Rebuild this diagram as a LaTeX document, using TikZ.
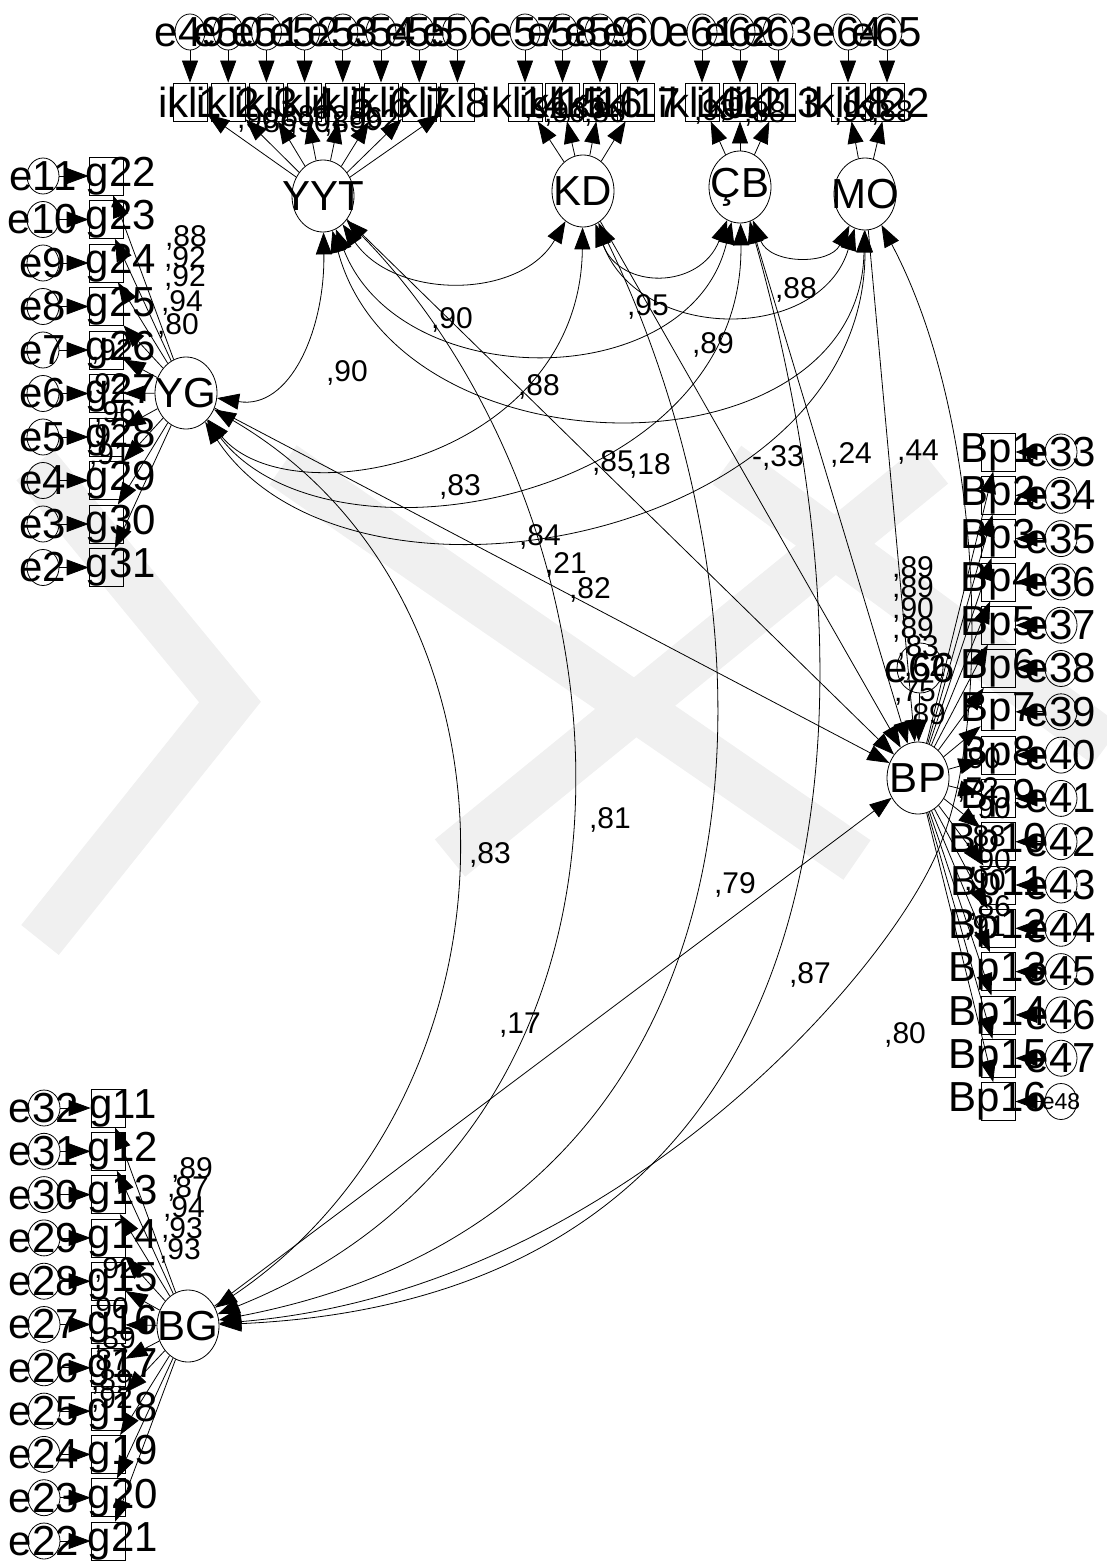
\documentclass[tikz,border=0pt]{standalone}
\usepackage{fontspec}
\setmainfont{Liberation Sans}
\usetikzlibrary{positioning, shapes.geometric, arrows.meta}

\begin{document}
\begin{tikzpicture}[x=0.5pt,y=-0.5pt]
	 \tikzstyle{latent}=[ellipse,draw,thin,minimum width=31pt,minimum height=36pt,inner sep=0pt]
	 \tikzstyle{obs}=[rectangle,draw,thin,minimum width=17pt,minimum height=19pt,inner sep=0pt]
	 \tikzstyle{err}=[ellipse,draw,thin,minimum width=16pt,minimum height=18pt,inner sep=0pt]
	 \tikzstyle{big}=[font=\fontsize{21}{21}\selectfont,inner sep=0pt]
	 \tikzstyle{small}=[font=\fontsize{11.5}{11.5}\selectfont,inner sep=0pt]
	 \tikzstyle{num}=[font=\fontsize{15}{15}\selectfont,inner sep=0pt]
	 \tikzstyle{path}=[draw,thin,-{Triangle[length=11pt,width=8pt]}]
	 \tikzstyle{cov}=[draw,thin,{Triangle[length=11pt,width=8pt]}-{Triangle[length=11pt,width=8pt]}]
	 \tikzstyle{wmark}=[draw=black!6,line width=24pt,line join=miter]
	 \useasboundingbox (0,0) rectangle (1107,1568);
	 % watermark
	 \draw[wmark] (35,465) -- (230,702) -- (40,940);
	 \draw[wmark] (283,465) -- (857,860);
	 \draw[wmark] (933,465) -- (450,858);
	 \draw[wmark] (727,465) -- (1107,745);
	 % latent variables
	 \node[latent, label={[big]center:YYT}] (yyt) at (323,196) {};
	 \node[latent, label={[big]center:KD}] (kd) at (583,191) {};
	 \node[latent, label={[big]center:ÇB}] (cb) at (740,187) {};
	 \node[latent, label={[big]center:MO}] (mo) at (865,194) {};
	 \node[latent, label={[big]center:YG}] (yg) at (186,393) {};
	 \node[latent, label={[big]center:BG}] (bg) at (188,1326) {};
	 \node[latent, label={[big]center:BP}] (bp) at (918,778) {};
	 \node[err, minimum width=23pt, minimum height=25pt, label={[big]center:e66}] (e66) at (920,668) {};
	 \draw[path] (e66) -- (bp);
	 % indicators on top
	 \foreach \xx/\k/\ee/\lat in {190/1/49/yyt, 228.2/2/50/yyt, 266.4/3/51/yyt, 304.6/4/52/yyt,
	     342.8/5/53/yyt, 381/6/54/yyt, 419.2/7/55/yyt, 457.4/8/56/yyt,
	     525/14/57/kd, 562.5/15/58/kd, 600/16/59/kd, 637.5/17/60/kd,
	     702/10/61/cb, 740/12/62/cb, 778/13/63/cb, 848/18/64/mo, 887/22/65/mo} {
	   \node[obs, label={[big]center:ikl\k}] (ikl\k) at (\xx,102) {};
	   \node[err, minimum width=15pt, label={[big]center:e\ee}] (e\ee) at (\xx,32) {};
	   \draw[path] (e\ee) -- (ikl\k);
	   \draw[path] (\lat) -- (ikl\k);
	 }
	 % YG indicators
	 \foreach \k in {0,...,9} {
	   \pgfmathsetmacro{\yy}{176+43.5*\k}
	   \pgfmathtruncatemacro{\gg}{22+\k}
	   \pgfmathtruncatemacro{\ee}{11-\k}
	   \node[obs, label={[big,xshift=7.5pt]center:g\gg}] (g\gg) at (106,\yy) {};
	   \node[err, label={[big]center:e\ee}] (e\ee) at (43,\yy) {};
	   \draw[path] (e\ee) -- (g\gg);
	   \draw[path] (yg) -- (g\gg);
	 }
	 % BG indicators
	 \foreach \k in {0,...,10} {
	   \pgfmathsetmacro{\yy}{1108+43.3*\k}
	   \pgfmathtruncatemacro{\gg}{11+\k}
	   \pgfmathtruncatemacro{\ee}{32-\k}
	   \node[obs, label={[big,xshift=7.5pt]center:g\gg}] (g\gg) at (108,\yy) {};
	   \node[err, label={[big]center:e\ee}] (e\ee) at (44,\yy) {};
	   \draw[path] (e\ee) -- (g\gg);
	   \draw[path] (bg) -- (g\gg);
	 }
	 % BP indicators
	 \foreach \k in {1,...,16} {
	   \pgfmathsetmacro{\yy}{452+43.3*(\k-1)}
	   \pgfmathtruncatemacro{\ee}{32+\k}
	   \node[obs, label={[big]center:Bp\k}] (bp\k) at (998,\yy) {};
	   \ifnum\ee<48
	     \node[err, label={[big]center:e\ee}] (e\ee) at (1061,\yy) {};
	   \else
	     \node[err, label={[small]center:e\ee}] (e\ee) at (1061,\yy) {};
	   \fi
	   \draw[path] (e\ee) -- (bp\k);
	   \draw[path] (bp) -- (bp\k);
	 }
	 % covariances
	 \draw[cov] (yyt) .. controls (395,300) and (520,300) .. (kd);
	 \draw[cov] (kd) .. controls (620,290) and (700,290) .. (cb);
	 \draw[cov] (cb) .. controls (770,265) and (830,265) .. (mo);
	 \draw[cov] (yyt) .. controls (400,395) and (690,395) .. (cb);
	 \draw[cov] (kd) .. controls (640,343) and (820,343) .. (mo);
	 \draw[cov] (yyt) .. controls (400,480) and (860,480) .. (mo);
	 \draw[cov] (yyt) .. controls (325,330) and (290,410) .. (yg);
	 \draw[cov] (yg) .. controls (290,520) and (580,460) .. (kd);
	 \draw[cov] (yg) .. controls (330,580) and (745,500) .. (cb);
	 \draw[cov] (yg) .. controls (350,640) and (865,540) .. (mo);
	 \draw[cov] (yg) .. controls (540,600) and (533,1093) .. (bg);
	 \draw[cov] (yyt) .. controls (640,520) and (694,1123) .. (bg);
	 \draw[cov] (kd) .. controls (790,620) and (795,1210) .. (bg);
	 \draw[cov] (cb) .. controls (900,760) and (831,1297) .. (bg);
	 \draw[cov] (mo) .. controls (985,420) and (990,720) .. (942,840) .. controls (900,960) and (620,1290) .. (bg);
	 % paths to BP
	 \draw[path] (yyt) -- (bp);
	 \draw[path] (kd) -- (bp);
	 \draw[path] (cb) -- (bp);
	 \draw[path] (mo) -- (bp);
	 \draw[path] (yg) -- (bp);
	 \draw[path] (bg) -- (bp);
	 % estimates
	 \foreach \xx/\yy/\s/\t [count=\c] in {452/320//90, 648/307//95, 796/290//88, 713/345//89,
	     347/373//90, 539/387//88, 613/463//85, 650/466//18, 778/458/-/33, 851/455//24,
	     918/452//44, 460/487//83, 540/537//84, 566/565//21, 590/590//82, 490/855//83,
	     610/820//81, 735/885//79, 810/975//87, 520/1025//17, 905/1035//80} {
	   \node[num] (c\c) at (\xx,\yy) {\s,\t};
	 }
	 % loadings
	 \foreach \xx/\yy/\t [count=\c] in {258/120/90, 276/124/86, 294/118/88, 310/124/90,
	     327/118/92, 345/124/89, 362/120/86, 378/122/92,
	     545/110/92, 565/114/90, 585/110/86, 605/114/86,
	     715/112/93, 740/110/90, 765/114/88, 855/113/93, 892/113/88,
	     186/238/88, 185/259/92, 185/278/92, 182/303/94, 178/326/80,
	     112/352/92, 107/386/92, 115/414/96, 107/437/92, 110/456/91,
	     192/1170/89, 188/1189/87, 184/1209/94, 182/1230/93, 180/1251/93,
	     115/1270/92, 108/1310/90, 115/1340/89, 108/1362/87, 112/1382/89, 112/1400/92,
	     913/569/89, 913/589/89, 913/610/90, 913/630/89, 918/648/83, 925/668/62,
	     915/693/75, 925/716/89,
	     980/760/90, 978/790/72, 990/810/90, 985/838/88, 990/862/90, 985/882/90,
	     990/908/86, 985/928/91} {
	   \node[num] (ld\c) at (\xx,\yy) {,\t};
	 }
\end{tikzpicture}
\end{document}
